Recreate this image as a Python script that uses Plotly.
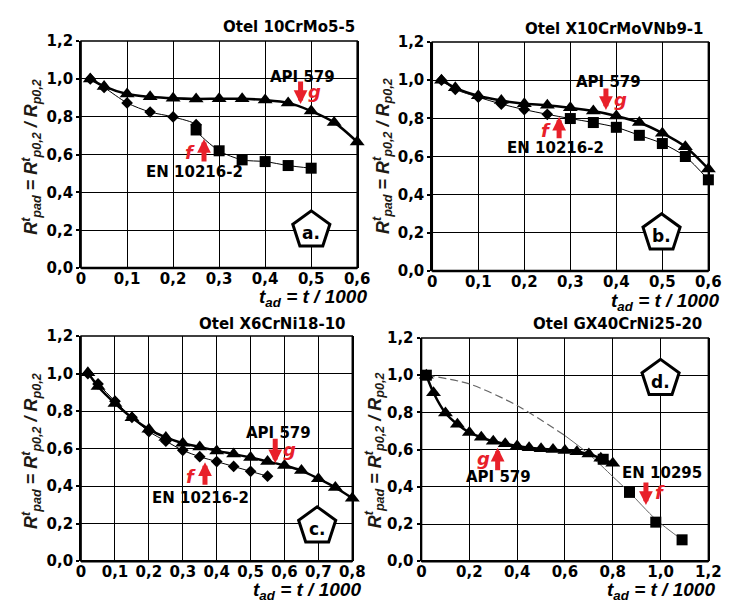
import math
import plotly.graph_objects as go

W, H = 736, 610
FONT = "DejaVu Sans, Liberation Sans, Arial, sans-serif"
TFONT = "Liberation Sans, Arial, sans-serif"
RED = "#e8202a"

# ---- (a) Otel 10CrMo5-5 ----
a_api_x = [0.02, 0.05, 0.1, 0.15, 0.2, 0.25, 0.3, 0.35, 0.4, 0.45, 0.5, 0.55, 0.6]
a_api_y = [1.0, 0.96, 0.92, 0.905, 0.897, 0.894, 0.895, 0.895, 0.888, 0.873, 0.83, 0.77, 0.667]
a_en_dx = [0.02, 0.05, 0.1, 0.15, 0.2, 0.25]
a_en_dy = [1.0, 0.955, 0.873, 0.825, 0.799, 0.758]
a_en_sx = [0.25, 0.3, 0.35, 0.4, 0.45, 0.5]
a_en_sy = [0.73, 0.62, 0.572, 0.563, 0.542, 0.528]

# ---- (b) Otel X10CrMoVNb9-1 ----
b_api_x = [0.02, 0.05, 0.1, 0.15, 0.2, 0.25, 0.3, 0.35, 0.4, 0.45, 0.5, 0.55, 0.6]
b_api_y = [1.0, 0.96, 0.918, 0.893, 0.877, 0.869, 0.855, 0.838, 0.812, 0.778, 0.722, 0.651, 0.535]
b_en_dx = [0.02, 0.05, 0.1, 0.15, 0.2, 0.25]
b_en_dy = [1.0, 0.952, 0.911, 0.875, 0.846, 0.821]
b_en_sx = [0.3, 0.35, 0.4, 0.45, 0.5, 0.55, 0.6]
b_en_sy = [0.799, 0.778, 0.753, 0.711, 0.668, 0.6, 0.478]

# ---- (c) Otel X6CrNi18-10 ----
c_api_x = [0.02, 0.05, 0.1, 0.15, 0.2, 0.25, 0.3, 0.35, 0.4, 0.45, 0.5, 0.55, 0.6, 0.65, 0.7, 0.75, 0.8]
c_api_y = [1.005, 0.931, 0.841, 0.764, 0.703, 0.66, 0.629, 0.609, 0.588, 0.571, 0.553, 0.531, 0.51, 0.483, 0.44, 0.393, 0.336]
c_en_dx = [0.02, 0.05, 0.1, 0.15, 0.2, 0.25, 0.3, 0.35, 0.4, 0.45, 0.5, 0.55]
c_en_dy = [1.0, 0.945, 0.853, 0.767, 0.691, 0.64, 0.591, 0.557, 0.531, 0.505, 0.479, 0.453]

# ---- (d) Otel GX40CrNi25-20 ----
d_api_x = [0.02, 0.05, 0.1, 0.15, 0.2, 0.25, 0.3, 0.35, 0.4, 0.45, 0.5, 0.55, 0.6, 0.65, 0.7, 0.75, 0.8]
d_api_y = [1.0, 0.906, 0.797, 0.736, 0.692, 0.666, 0.645, 0.631, 0.619, 0.61, 0.605, 0.6, 0.595, 0.588, 0.576, 0.553, 0.527]
d_en_sx = [0.02, 0.76, 0.87, 0.98, 1.09]
d_en_sy = [1.0, 0.548, 0.37, 0.21, 0.115]
d_trend_x = [0.02, 0.2, 0.4, 0.6, 0.7, 0.8, 0.87, 0.98, 1.09]
d_trend_y = [1.0, 0.953, 0.837, 0.675, 0.576, 0.455, 0.37, 0.225, 0.115]

y_tickvals = [0, 0.2, 0.4, 0.6, 0.8, 1.0, 1.2]
y_ticktext = ["0,0", "0,2", "0,4", "0,6", "0,8", "1,0", "1,2"]
x6_tickvals = [0, 0.1, 0.2, 0.3, 0.4, 0.5, 0.6]
x6_ticktext = ["0", "0,1", "0,2", "0,3", "0,4", "0,5", "0,6"]
x8_tickvals = [0, 0.1, 0.2, 0.3, 0.4, 0.5, 0.6, 0.7, 0.8]
x8_ticktext = ["0", "0,1", "0,2", "0,3", "0,4", "0,5", "0,6", "0,7", "0,8"]
x12_tickvals = [0, 0.2, 0.4, 0.6, 0.8, 1.0, 1.2]
x12_ticktext = ["0", "0,2", "0,4", "0,6", "0,8", "1,0", "1,2"]

titles = ["Otel 10CrMo5-5", "Otel X10CrMoVNb9-1", "Otel X6CrNi18-10", "Otel GX40CrNi25-20"]
panel_tags = ["a.", "b.", "c.", "d."]


def fx(p):
    return p / W


def fy(p):
    return 1 - p / H


# plot-area boxes in pixels: left, right, top, bottom
boxes = [(78, 361, 33, 267), (438, 721, 34, 270), (78, 356, 337, 569), (427, 721, 339, 569)]

fig = go.Figure()


def line_trace(x, y, ax, width, color="black", dash="solid"):
    fig.add_trace(go.Scatter(x=x, y=y, mode="lines",
                             line=dict(color=color, width=width, shape="spline", smoothing=0.8, dash=dash),
                             xaxis=ax[0], yaxis=ax[1], showlegend=False, hoverinfo="skip"))


def mark_trace(x, y, ax, symbol, size):
    fig.add_trace(go.Scatter(x=x, y=y, mode="markers", marker=dict(symbol=symbol, size=size, color="black"),
                             xaxis=ax[0], yaxis=ax[1], showlegend=False, cliponaxis=False))


A = ("x", "y")
B = ("x2", "y2")
C = ("x3", "y3")
D = ("x4", "y4")

# (a)
line_trace(a_api_x, a_api_y, A, 2.5)
line_trace(a_en_dx + a_en_sx, a_en_dy + a_en_sy, A, 1)
mark_trace(a_api_x, a_api_y, A, "triangle-up", 13)
mark_trace(a_en_dx, a_en_dy, A, "diamond", 9)
mark_trace(a_en_sx, a_en_sy, A, "square", 11)

# (b)
line_trace(b_api_x, b_api_y, B, 2.5)
line_trace(b_en_dx + b_en_sx, b_en_dy + b_en_sy, B, 1)
mark_trace(b_api_x, b_api_y, B, "triangle-up", 13)
mark_trace(b_en_dx, b_en_dy, B, "diamond", 9)
mark_trace(b_en_sx, b_en_sy, B, "square", 11)

# (c)
line_trace(c_api_x, c_api_y, C, 2.5)
line_trace(c_en_dx, c_en_dy, C, 1)
mark_trace(c_api_x, c_api_y, C, "triangle-up", 13)
mark_trace(c_en_dx, c_en_dy, C, "diamond", 9)

# (d) trend line dashed in its upper part, solid further down
line_trace(d_trend_x[:4], d_trend_y[:4], D, 1.2, color="#666666", dash="8px,4px")
line_trace(d_trend_x[3:], d_trend_y[3:], D, 1, color="#666666")
line_trace(d_api_x, d_api_y, D, 2.5)
mark_trace(d_api_x, d_api_y, D, "triangle-up", 13)
mark_trace(d_en_sx, d_en_sy, D, "square", 11)

tickfont = dict(family=FONT, size=15, color="black", weight="bold")
x_common = dict(showgrid=True, gridcolor="black", gridwidth=1, showline=False, ticks="", zeroline=False,
                tickfont=tickfont, fixedrange=True, anchor="free")
y_common = dict(showgrid=True, gridcolor="black", gridwidth=1, showline=True, linecolor="black", linewidth=2,
                mirror=True, ticks="outside", ticklen=3, tickwidth=1.5, tickcolor="black", zeroline=False,
                tickfont=tickfont, fixedrange=True)

xticks = [(x6_tickvals, x6_ticktext, 0.6), (x6_tickvals, x6_ticktext, 0.6),
          (x8_tickvals, x8_ticktext, 0.8), (x12_tickvals, x12_ticktext, 1.2)]

layout = {}
shapes = []
for i, (l, r, t, b) in enumerate(boxes):
    sfx = "" if i == 0 else str(i + 1)
    tv, tt, xmax = xticks[i]
    # x axis floats a pixel under the frame so its labels sit close to it; the frame is drawn as a shape
    layout["xaxis" + sfx] = dict(x_common, domain=[fx(l), fx(r)], range=[0, xmax], tickvals=tv,
                                 ticktext=tt, position=fy(b))
    layout["yaxis" + sfx] = dict(y_common, domain=[fy(b), fy(t)], range=[0, 1.2], tickvals=y_tickvals,
                                 ticktext=y_ticktext, anchor="x" + sfx)
    shapes.append(dict(type="rect", xref=f"x{sfx} domain", yref=f"y{sfx} domain", x0=0, x1=1, y0=0, y1=1,
                       line=dict(color="black", width=1.5)))
    shapes.append(dict(type="line", xref=f"x{sfx} domain", yref=f"y{sfx} domain", x0=0, x1=1, y0=0, y1=0,
                       line=dict(color="black", width=2.5)))

fig.update_layout(**layout)

annotations = []


def text(x, y, s, size=14, color="black", xanchor="center", angle=0, family=FONT):
    annotations.append(dict(x=fx(x), y=fy(y), xref="paper", yref="paper", text=s, showarrow=False,
                            xanchor=xanchor, yanchor="middle", textangle=angle,
                            font=dict(family=family, size=size, color=color)))


def arrow(x, y_tail, y_head):
    annotations.append(dict(x=fx(x), y=fy(y_head), xref="paper", yref="paper", ax=0, ay=y_tail - y_head,
                            text="", showarrow=True, arrowhead=2, arrowsize=0.55, arrowwidth=5,
                            arrowcolor=RED))


def pentagon(cx, cy, r, tag):
    pts = []
    for k in range(5):
        ang = math.radians(-90 + 72 * k)
        pts.append((cx + r * math.cos(ang), cy + r * math.sin(ang)))
    path = "M " + " L ".join(f"{fx(px):.5f},{fy(py):.5f}" for px, py in pts) + " Z"
    shapes.append(dict(type="path", path=path, xref="paper", yref="paper", line=dict(color="black", width=3),
                       fillcolor="white"))
    text(cx, cy + 3, f"<b>{tag}</b>", size=17)


ytitle = "<b><i>R<sup>t</sup><sub>pad</sub> = R<sup>t</sup><sub>p0,2</sub> / R<sub>p0,2</sub></i></b>"
xtitle = "<i><b>t</b></i><b><sub><i>ad</i></sub></b><i><b> = t / 1000</b></i>"

# panel titles, axis titles
title_pos = [(361, 19), (719, 21), (352, 325), (717, 325)]
ytitle_pos = [(27, 152), (387, 152), (27, 455), (379, 455)]
xtitle_pos = [(373, 298), (734, 302), (367, 600), (730, 600)]
for i in range(4):
    text(*title_pos[i], f"<b>{titles[i]}</b>", size=15, xanchor="right")
    text(*ytitle_pos[i], ytitle, size=18, color="#1e1a14", angle=-90, family=TFONT)
    text(*xtitle_pos[i], xtitle, size=19, xanchor="right", family=TFONT)

# series labels
text(305, 70, "<b>API 579</b>", size=15)
text(194, 168, "<b>EN 10216-2</b>", size=15)
text(619, 75, "<b>API 579</b>", size=15)
text(564, 143, "<b>EN 10216-2</b>", size=15)
text(280, 437, "<b>API 579</b>", size=15)
text(200, 504, "<b>EN 10216-2</b>", size=15)
text(506, 482, "<b>API 579</b>", size=15)
text(673, 478, "<b>EN 10295</b>", size=15)

g_f = "<b><i>{}</i></b>"
# (a)
arrow(303, 74, 98)
text(317, 85, g_f.format("g"), size=18, color=RED)
arrow(204, 158, 134)
text(190, 148, g_f.format("f"), size=18, color=RED)
# (b)
arrow(616, 81, 104)
text(631, 93, g_f.format("g"), size=18, color=RED)
arrow(568, 134, 111)
text(555, 125, g_f.format("f"), size=18, color=RED)
# (c)
arrow(277, 442, 468)
text(292, 454, g_f.format("g"), size=18, color=RED)
arrow(205, 491, 467)
text(191, 482, g_f.format("f"), size=18, color=RED)
# (d)
arrow(505, 476, 452)
text(491, 463, g_f.format("g"), size=18, color=RED)
arrow(657, 487, 511)
text(671, 498, g_f.format("f"), size=18, color=RED)

pentagon(314, 228, 20, panel_tags[0])
pentagon(673, 231, 20, panel_tags[1])
pentagon(320, 533, 20, panel_tags[2])
pentagon(672, 381, 20, panel_tags[3])

fig.update_layout(width=W, height=H, margin=dict(l=0, r=0, t=0, b=0), paper_bgcolor="white",
                  plot_bgcolor="white", annotations=annotations, shapes=shapes, showlegend=False,
                  font=dict(family=FONT, color="black"))

fig.write_html("out.html")
